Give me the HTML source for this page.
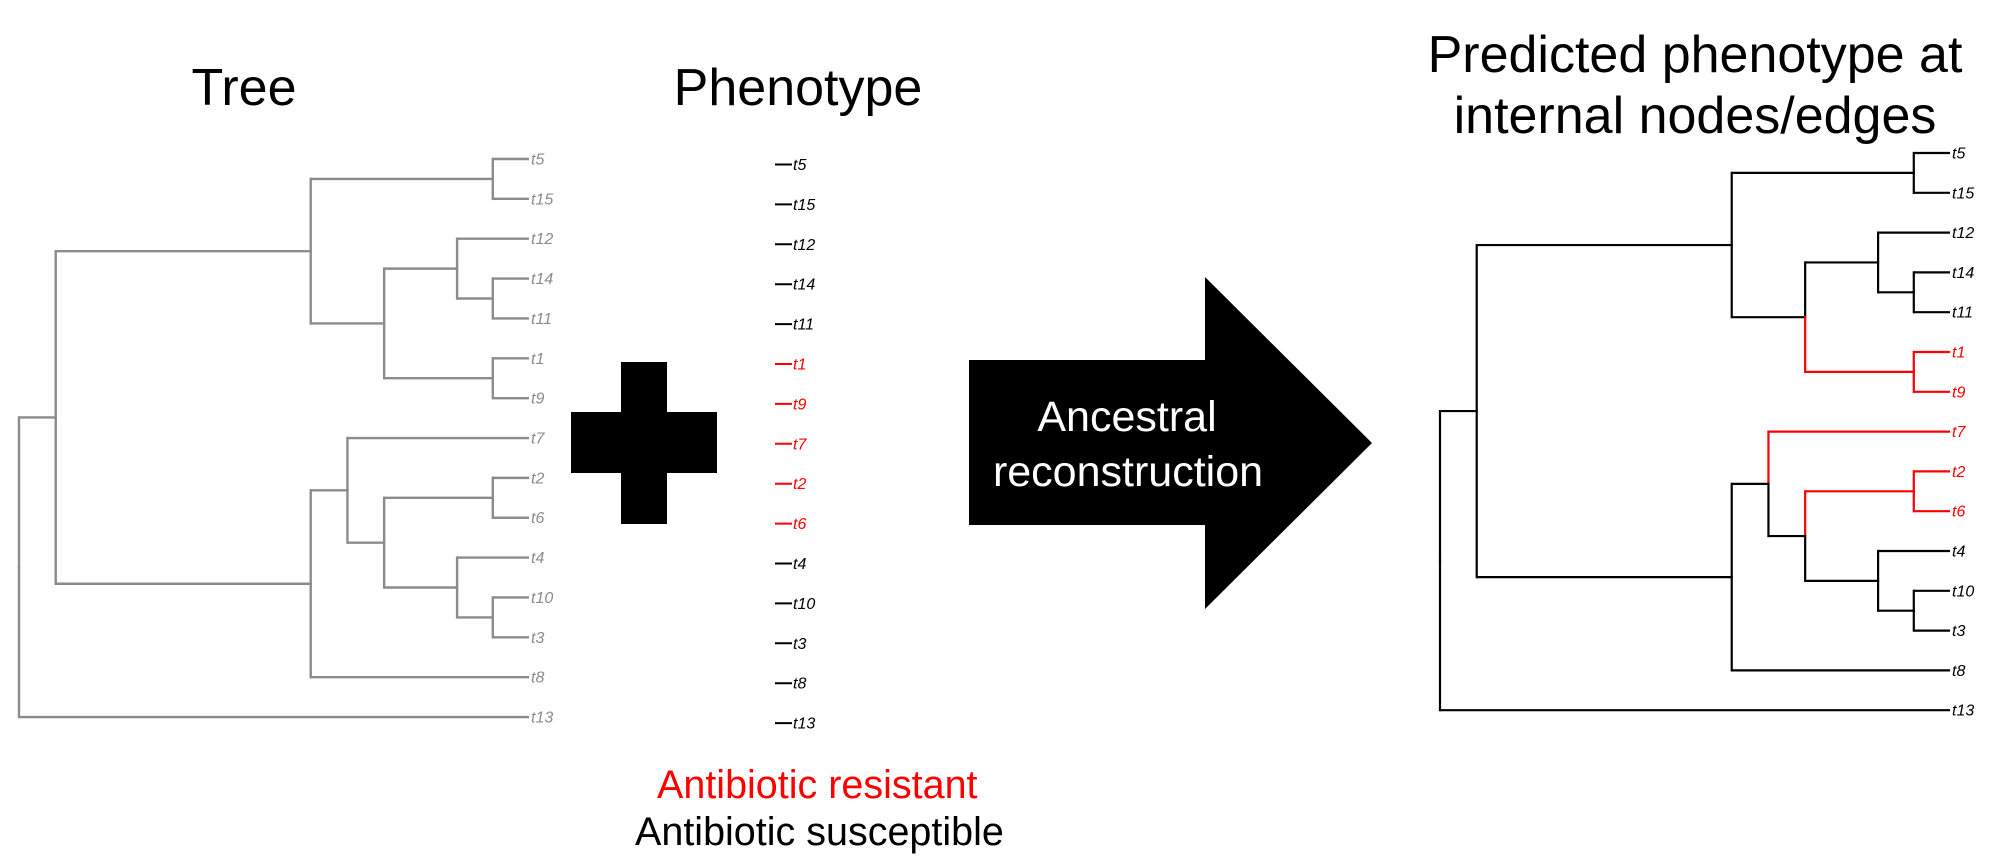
<!DOCTYPE html>
<html><head><meta charset="utf-8">
<style>
html,body{margin:0;padding:0;background:#fff;}
svg{display:block;}
text{font-family:"Liberation Sans",Arial,sans-serif;}
</style></head>
<body>
<svg id="fig" width="1998" height="866" viewBox="0 0 1998 866" xmlns="http://www.w3.org/2000/svg">
  <text x="244" y="105" font-size="52" text-anchor="middle">Tree</text>
  <text x="798" y="105" font-size="52" text-anchor="middle">Phenotype</text>
  <text x="1695" y="72" font-size="52" text-anchor="middle">Predicted phenotype at</text>
  <text x="1695" y="133" font-size="52" text-anchor="middle">internal nodes/edges</text>
  <g>
    <rect x="621" y="362" width="46" height="162" fill="#000"/>
    <rect x="571" y="412" width="146" height="61" fill="#000"/>
  </g>
  <polygon points="969,360 1205,360 1205,277 1372,443 1205,609 1205,525 969,525" fill="#000"/>
  <text x="1127" y="431" font-size="43" fill="#fff" text-anchor="middle">Ancestral</text>
  <text x="1128" y="486" font-size="43" fill="#fff" text-anchor="middle">reconstruction</text>
  <text x="657" y="798" font-size="39.5" fill="#ff0000">Antibiotic resistant</text>
  <text x="635" y="845" font-size="39.5" fill="#000">Antibiotic susceptible</text>
  <g id="leftTree"></g>
  <g id="pheno"></g>
  <g id="rightTree"></g>
</svg>
<script>
const tips = ['t5','t15','t12','t14','t11','t1','t9','t7','t2','t6','t4','t10','t3','t8','t13'];
const resistantTips = ['t1','t9','t7','t2','t6'];
const nodeIds = ['root','A','B','C','D','E','F','G','H','I','J','K','L'];
const nodeDepths = [0, 0.072, 0.572, 0.929, 0.716, 0.859, 0.929, 0.929, 0.572, 0.644, 0.716, 0.929, 0.859];
const nodeChildren = [
  ['A','t13'], ['B','H'], ['C','D'], ['t5','t15'], ['E','G'], ['t12','F'],
  ['t14','t11'], ['t1','t9'], ['I','t8'], ['t7','J'], ['K','L'], ['t2','t6'], ['t4','M']
];
nodeIds.push('M'); nodeDepths.push(0.929); nodeChildren.push(['t10','t3']);
const resistantNodes = ['G','K'];

const NS = 'http://www.w3.org/2000/svg';
function mk(tag, attrs, parent){
  const e = document.createElementNS(NS, tag);
  for (const k in attrs) e.setAttribute(k, attrs[k]);
  parent.appendChild(e); return e;
}
function depthOf(id){ const i = nodeIds.indexOf(id); return i < 0 ? 1 : nodeDepths[i]; }
function childrenOf(id){ const i = nodeIds.indexOf(id); return i < 0 ? null : nodeChildren[i]; }

function drawTree(g, x0, x1, y0, step, colorFn, labelColorFn, sw){
  const xs = d => x0 + d * (x1 - x0);
  const ys = i => y0 + i * step;
  const yOf = {};
  function calc(id){
    const ch = childrenOf(id);
    if (!ch){ yOf[id] = ys(tips.indexOf(id)); return yOf[id]; }
    const v = ch.map(calc); yOf[id] = (Math.min(...v) + Math.max(...v)) / 2; return yOf[id];
  }
  calc('root');
  function draw(id){
    const ch = childrenOf(id); if (!ch) return;
    const px = xs(depthOf(id));
    ch.forEach(c => {
      const col = colorFn(c);
      const v = mk('line', {x1:px, y1:yOf[id], x2:px, y2:yOf[c], stroke:col, 'stroke-width':sw, 'stroke-linecap':'square'}, g);
      
      
      const h = mk('line', {x1:px, y1:yOf[c], x2:xs(depthOf(c)), y2:yOf[c], stroke:col, 'stroke-width':sw}, g);
      
      
      draw(c);
    });
  }
  draw('root');
  tips.forEach((t, i) => {
    const tx = mk('text', {x:x1 + 2, y:ys(i) + 5.5, 'font-size':16, 'font-style':'italic', fill:labelColorFn(t)}, g);
    tx.textContent = t;
    
    
  });
}

drawTree(document.getElementById('leftTree'), 19, 529, 159, 39.86, () => '#8c8c8c', () => '#8c8c8c', 2.4);
drawTree(document.getElementById('rightTree'), 1440, 1950, 153, 39.8,
  c => (resistantTips.includes(c) || resistantNodes.includes(c)) ? '#ff0000' : '#000',
  t => resistantTips.includes(t) ? '#ff0000' : '#000', 2.2);

const pg = document.getElementById('pheno');
tips.forEach((t, i) => {
  const y = 164.5 + i * 39.9;
  const col = resistantTips.includes(t) ? '#ff0000' : '#000';
  const l = mk('line', {x1:775, y1:y, x2:792, y2:y, stroke:col, 'stroke-width':2}, pg);
  
  
  const tx = mk('text', {x:793, y:y + 5.5, 'font-size':16, 'font-style':'italic', fill:col}, pg);
  tx.textContent = t;
  
  
});
</script>
</body></html>
